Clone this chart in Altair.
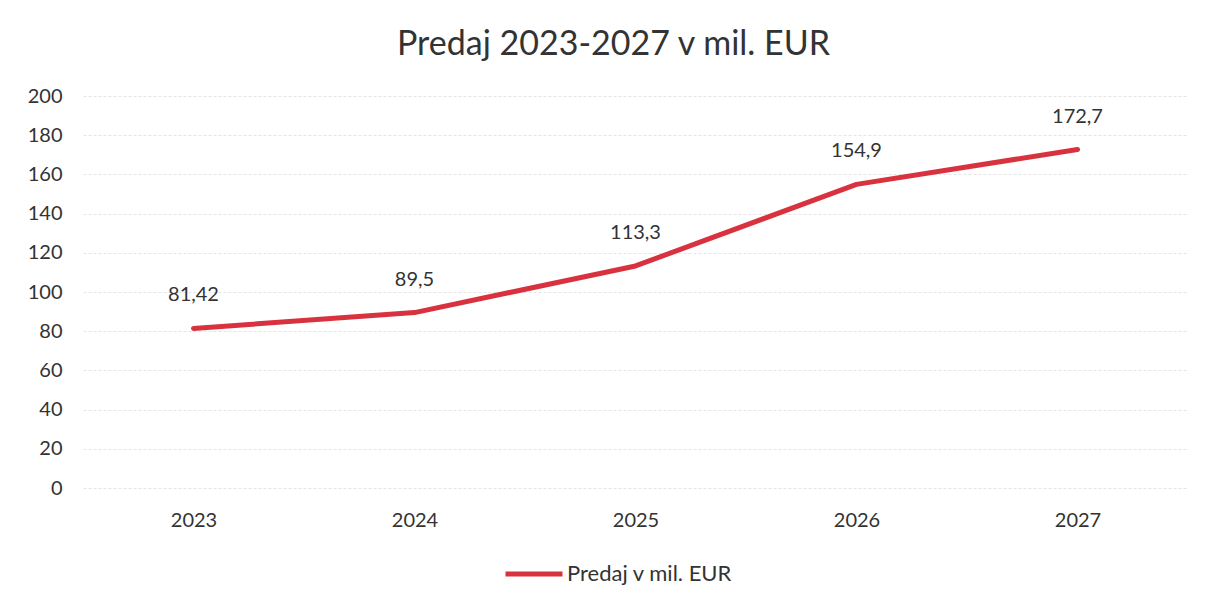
import altair as alt
import pandas as pd

years = ["2023", "2024", "2025", "2026", "2027"]
values = [81.42, 89.5, 113.3, 154.9, 172.7]
labels = ["81,42", "89,5", "113,3", "154,9", "172,7"]
series = "Predaj v mil. EUR"
y_ticks = [0, 20, 40, 60, 80, 100, 120, 140, 160, 180, 200]

df = pd.DataFrame({"year": years, "value": values, "label": labels, "series": [series] * len(years)})

FONT = "Lato"
TXT = "#333333"
RED = "#d9323f"

x = alt.X("year:O", scale=alt.Scale(type="point", padding=0.5),
          axis=alt.Axis(title=None, labelAngle=0, labelFontSize=20, labelColor=TXT, labelFont=FONT,
                        ticks=False, domain=False, labelPadding=22, grid=False))
y = alt.Y("value:Q", scale=alt.Scale(domain=[0, 200]),
          axis=alt.Axis(title=None, values=y_ticks, labelFontSize=20, labelColor=TXT,
                        labelFont=FONT, ticks=False, domain=False, labelPadding=21, minExtent=70,
                        labelOverlap=False, labelBound=False,
                        grid=True, gridColor="#e4e4e4", gridWidth=1, gridDash=[3, 2]))

line = alt.Chart(df).mark_line(strokeWidth=5, strokeCap="round", strokeJoin="round").encode(
    x=x, y=y,
    color=alt.Color("series:N", scale=alt.Scale(domain=[series], range=[RED]),
                    legend=alt.Legend(title=None, orient="none", legendX=420, legendY=447,
                                      symbolType="stroke", symbolSize=3249, symbolStrokeWidth=5,
                                      labelFontSize=22, labelColor=TXT, labelFont=FONT, labelOffset=2,
                                      labelLimit=500))
)

text = alt.Chart(df).mark_text(dy=-33, fontSize=20, color=TXT, font=FONT).encode(
    x=x, y=y, text="label:N"
)

chart = (line + text).properties(
    width=1105, height=392,
    title=alt.TitleParams("Predaj 2023-2027 v mil. EUR", fontSize=34, font=FONT, color=TXT,
                          fontWeight="normal", anchor="middle", offset=24, dx=-22),
    padding={"left": 5, "top": 20, "right": 5, "bottom": 5}
).configure(background="white").configure_view(stroke="transparent", strokeWidth=0)

chart.save("out.html", embed_options={"renderer": "svg", "actions": False})
